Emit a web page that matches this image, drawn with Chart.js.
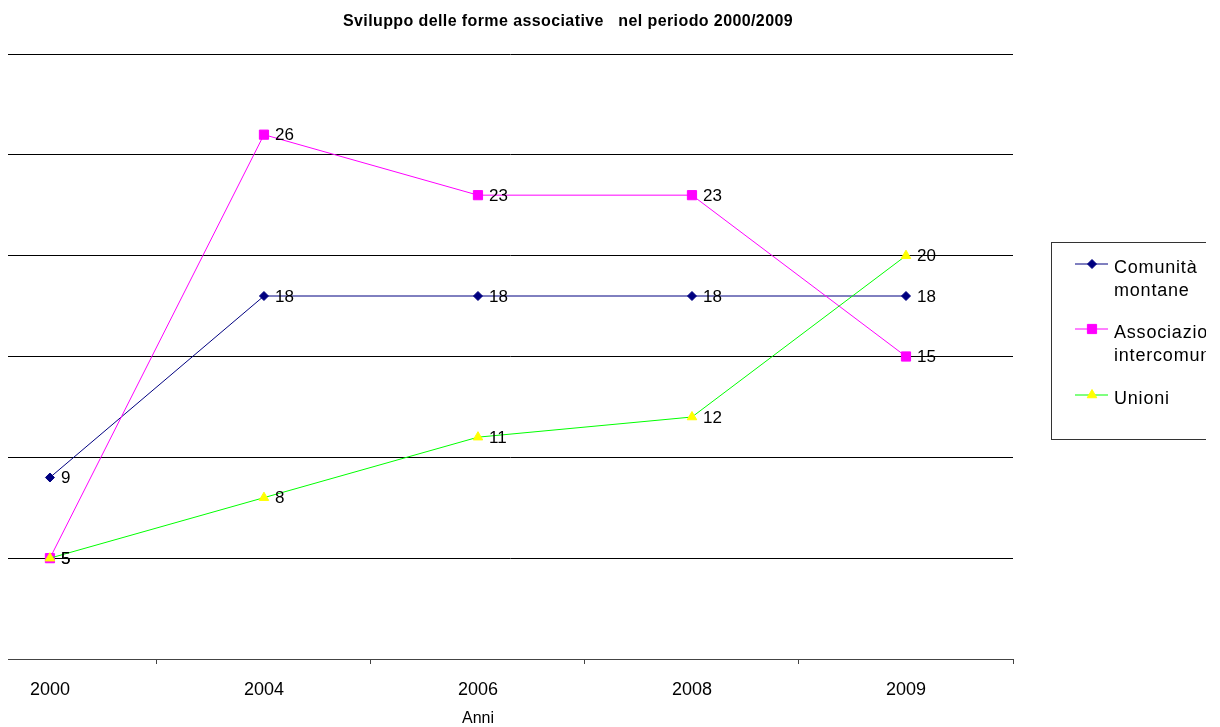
<!DOCTYPE html>
<html>
<head>
<meta charset="utf-8">
<style>
  html, body { margin: 0; padding: 0; background: #ffffff; overflow: hidden; }
  #wrap { position: relative; width: 1220px; height: 727px; }
</style>
<script src="https://cdn.jsdelivr.net/npm/chart.js@4/dist/chart.umd.min.js"></script>
</head>
<body>
<div id="wrap"><canvas id="chart" width="1220" height="727"></canvas></div>
<script>
// Categories (years) and series values
const anni = ['2000', '2004', '2006', '2008', '2009'];
const comunitaMontane = [9, 18, 18, 18, 18];
const associazioniIntercomunali = [5, 26, 23, 23, 15];
const unioni = [5, 8, 11, 12, 20];

const seriesNames = [['Comunità', 'montane'], ['Associazioni', 'intercomunali'], ['Unioni']];
const titleText = 'Sviluppo delle forme associative   nel periodo 2000/2009';
const xTitleText = 'Anni';

const FONT = '"Liberation Sans", Arial, sans-serif';

function toPoints(arr) {
  return arr.map((v, i) => ({ x: i, y: v }));
}

// Title, axis title, value labels and the boxed legend
const decorations = {
  id: 'decorations',
  afterDatasetsDraw(chart) {
    const ctx = chart.ctx;
    ctx.save();
    // value labels beside each point
    ctx.font = '17px ' + FONT;
    ctx.fillStyle = '#000';
    ctx.textAlign = 'left';
    ctx.textBaseline = 'middle';
    chart.data.datasets.forEach((ds, di) => {
      const meta = chart.getDatasetMeta(di);
      meta.data.forEach((pt, i) => {
        ctx.fillText(String(ds.data[i].y), pt.x + 11, pt.y + 1);
      });
    });
    ctx.restore();
  },
  afterDraw(chart) {
    const ctx = chart.ctx;
    const xs = chart.scales.x;
    ctx.save();
    // chart title
    ctx.font = 'bold 16px ' + FONT;
    ctx.letterSpacing = '0.4px';
    ctx.fillStyle = '#000';
    ctx.textAlign = 'center';
    ctx.textBaseline = 'alphabetic';
    ctx.fillText(titleText, 568, 26);
    ctx.letterSpacing = '0px';

    // axis title under the middle category
    ctx.font = '16px ' + FONT;
    ctx.textBaseline = 'middle';
    ctx.fillText(xTitleText, xs.getPixelForValue(2), 719);

    // legend box, cut off on its right side
    ctx.save();
    ctx.beginPath();
    ctx.rect(0, 0, 1206, chart.height);
    ctx.clip();
    const lx = 1051, ly = 242, lw = 220, lh = 197;
    ctx.strokeStyle = '#333';
    ctx.lineWidth = 1;
    ctx.strokeRect(lx + 0.5, ly + 0.5, lw, lh);

    const rowsY = [264, 329, 395];
    ctx.font = '18px ' + FONT;
    ctx.letterSpacing = '0.8px';
    ctx.textAlign = 'left';
    ctx.textBaseline = 'alphabetic';
    chart.data.datasets.forEach((ds, di) => {
      const y = rowsY[di];
      ctx.strokeStyle = ds.borderColor;
      ctx.lineWidth = 1;
      ctx.beginPath();
      ctx.moveTo(1075, y);
      ctx.lineTo(1108, y);
      ctx.stroke();
      ctx.fillStyle = ds.pointBackgroundColor;
      ctx.strokeStyle = ds.pointBorderColor;
      Chart.helpers.drawPoint(ctx, {
        pointStyle: ds.pointStyle,
        radius: ds.pointRadius,
        borderWidth: 1
      }, 1092, y);
      ctx.fillStyle = '#000';
      seriesNames[di].forEach((t, li) => {
        ctx.fillText(t, 1114, y + 9 + li * 23);
      });
    });
    ctx.restore();
    ctx.restore();
  }
};

new Chart(document.getElementById('chart'), {
  type: 'line',
  data: {
    datasets: [
      {
        label: 'Comunità montane',
        data: toPoints(comunitaMontane),
        borderColor: '#000080',
        backgroundColor: '#000080',
        pointBackgroundColor: '#000080',
        pointBorderColor: '#000080',
        pointStyle: 'rectRot',
        pointRadius: 4.5,
        borderWidth: 1,
        order: 3
      },
      {
        label: 'Associazioni intercomunali',
        data: toPoints(associazioniIntercomunali),
        borderColor: '#ff00ff',
        backgroundColor: '#ff00ff',
        pointBackgroundColor: '#ff00ff',
        pointBorderColor: '#ff00ff',
        pointStyle: 'rect',
        pointRadius: 6.5,
        borderWidth: 1,
        order: 2
      },
      {
        label: 'Unioni',
        data: toPoints(unioni),
        borderColor: '#00ff00',
        backgroundColor: '#ffff00',
        pointBackgroundColor: '#ffff00',
        pointBorderColor: '#ffff00',
        pointStyle: 'triangle',
        pointRadius: 5.5,
        borderWidth: 1,
        order: 1
      }
    ]
  },
  options: {
    responsive: false,
    animation: false,
    events: [],
    layout: { padding: { left: 8, right: 207, top: 54, bottom: 0 } },
    elements: { line: { tension: 0 } },
    plugins: {
      legend: { display: false },
      title: { display: false },
      tooltip: { enabled: false }
    },
    scales: {
      x: {
        type: 'linear',
        min: -0.196,
        max: 4.5,
        afterBuildTicks(scale) {
          scale.ticks = anni.map((_, i) => ({ value: i }));
        },
        afterFit(scale) { scale.height = 68; },
        ticks: {
          autoSkip: false,
          maxRotation: 0,
          padding: 15,
          color: '#000',
          font: { family: FONT, size: 18 },
          callback: (v) => anni[v]
        },
        grid: {
          offset: true,
          drawOnChartArea: false,
          drawTicks: true,
          tickLength: 5,
          color: '#444'
        },
        border: { display: true, color: '#444', width: 1 }
      },
      y: {
        min: 0,
        max: 30,
        afterFit(scale) { scale.width = 0; },
        ticks: { display: false, stepSize: 5 },
        grid: {
          color: '#000',
          lineWidth: 1,
          drawTicks: false
        },
        border: { display: false }
      }
    }
  },
  plugins: [decorations]
});
</script>
</body>
</html>
